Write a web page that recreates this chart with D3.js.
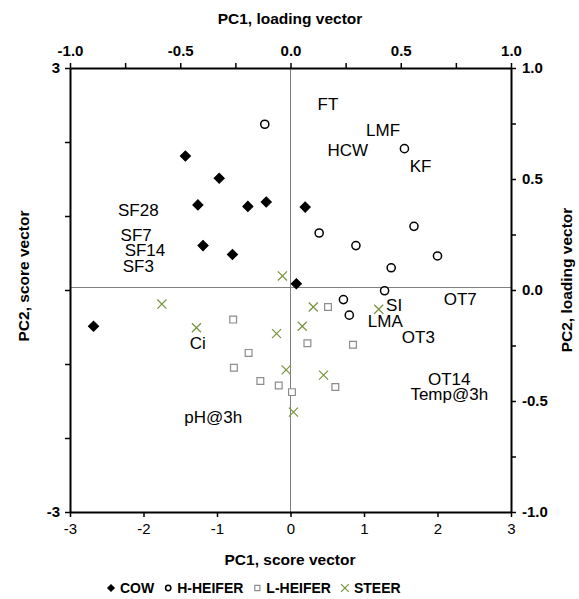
<!DOCTYPE html>
<html>
<head>
<meta charset="utf-8">
<script src="https://cdn.jsdelivr.net/npm/d3@7"></script>
<style>
  body { margin: 0; background: #fff; }
  svg { font-family: "Liberation Sans", Arial, sans-serif; }
</style>
</head>
<body>
<div class="biplot"></div>
<script>
// group scores (PC1, PC2)
const cowX = [-1.43, -0.97, -1.26, -0.58, -0.33, 0.20, -1.19, -0.79, 0.08, -2.68];
const cowY = [1.81, 1.51, 1.15, 1.13, 1.19, 1.12, 0.60, 0.48, 0.085, -0.49];
const hHeiferX = [-0.35, 1.55, 0.39, 0.89, 1.68, 2.00, 1.37, 1.28, 0.72, 0.80];
const hHeiferY = [2.24, 1.91, 0.77, 0.60, 0.86, 0.46, 0.30, -0.01, -0.13, -0.34];
const lHeiferX = [-0.78, -0.57, -0.77, -0.41, -0.16, 0.02, 0.51, 0.23, 0.85, 0.61];
const lHeiferY = [-0.40, -0.85, -1.05, -1.23, -1.29, -1.38, -0.23, -0.72, -0.74, -1.31];
const steerX = [-1.75, -1.28, -0.11, -0.19, 0.16, -0.06, 0.04, 0.31, 0.45, 1.20];
const steerY = [-0.19, -0.51, 0.19, -0.59, -0.49, -1.08, -1.65, -0.23, -1.15, -0.26];

// loading vector labels
const loadNames = ["FT", "LMF", "HCW", "KF", "SF28", "SF7", "SF14", "SF3", "Ci", "pH@3h",
                   "SI", "OT7", "LMA", "OT3", "OT14", "Temp@3h"];
const loadX = [0.17, 0.42, 0.26, 0.59, -0.69, -0.70, -0.66, -0.69, -0.42, -0.35,
               0.47, 0.77, 0.43, 0.58, 0.72, 0.72];
const loadY = [0.84, 0.72, 0.63, 0.56, 0.36, 0.25, 0.18, 0.11, -0.24, -0.57,
               -0.065, -0.04, -0.14, -0.21, -0.40, -0.47];

const scoreTicks = [-3, -2, -1, 0, 1, 2, 3];
const loadTicks = [-1, -0.75, -0.5, -0.25, 0, 0.25, 0.5, 0.75, 1];
const groupNames = ["COW", "H-HEIFER", "L-HEIFER", "STEER"];

const width = 579, height = 599;
const x = d3.scaleLinear().domain([-3, 3]).range([70, 511]);
const y = d3.scaleLinear().domain([-3, 3]).range([512, 68]);
const xL = d3.scaleLinear().domain([-1, 1]).range([70, 511]);
const yL = d3.scaleLinear().domain([-1, 1]).range([512, 68]);

const svg = d3.select(".biplot").append("svg")
    .attr("width", width)
    .attr("height", height);

// zero lines
svg.append("line")
    .attr("x1", x(0)).attr("x2", x(0))
    .attr("y1", y(3)).attr("y2", y(-3))
    .attr("stroke", "#808080").attr("stroke-width", 1);
svg.append("line")
    .attr("x1", x(-3)).attr("x2", x(3))
    .attr("y1", y(0) - 2.5).attr("y2", y(0) - 2.5)
    .attr("stroke", "#808080").attr("stroke-width", 1);

const half = d => Math.abs(d * 2 % 1) < 1e-9 ? d.toFixed(1) : "";

function styleAxis(g, bold) {
    g.select(".domain").attr("stroke-width", 2);
    g.selectAll(".tick line").attr("stroke-width", 1.5);
    g.selectAll("text")
        .attr("font-family", "Liberation Sans, Arial, sans-serif")
        .attr("font-size", 15)
        .attr("font-weight", bold ? "bold" : "normal")
        .attr("fill", "#000");
}

svg.append("g")
    .attr("transform", `translate(0,${y(-3)})`)
    .call(d3.axisBottom(x).tickValues(scoreTicks).tickSize(5).tickSizeOuter(0)
        .tickPadding(6).tickFormat(d => String(d)))
    .call(g => styleAxis(g, false));

svg.append("g")
    .attr("transform", `translate(${x(-3)},0)`)
    .call(d3.axisLeft(y).tickValues(scoreTicks).tickSize(5).tickSizeOuter(0)
        .tickPadding(5).tickFormat(d => Math.abs(d) === 3 ? String(d) : ""))
    .call(g => styleAxis(g, true));

svg.append("g")
    .attr("transform", `translate(0,${yL(1)})`)
    .call(d3.axisTop(xL).tickValues(loadTicks).tickSize(5).tickSizeOuter(0)
        .tickPadding(7).tickFormat(half))
    .call(g => styleAxis(g, true));

svg.append("g")
    .attr("transform", `translate(${xL(1)},0)`)
    .call(d3.axisRight(yL).tickValues(loadTicks).tickSize(5).tickSizeOuter(0)
        .tickPadding(6).tickFormat(half))
    .call(g => styleAxis(g, true));

// axis titles
const titles = svg.append("g")
    .attr("font-size", 15.5)
    .attr("font-weight", "bold")
    .attr("text-anchor", "middle");
titles.append("text").attr("x", 290).attr("y", 24).text("PC1, loading vector");
titles.append("text").attr("x", 290).attr("y", 565).text("PC1, score vector");
titles.append("text")
    .attr("transform", "translate(29,276) rotate(-90)")
    .text("PC2, score vector");
titles.append("text")
    .attr("transform", "translate(572,280) rotate(-90)")
    .text("PC2, loading vector");

// loading labels
svg.append("g")
    .attr("font-size", 17)
    .attr("text-anchor", "middle")
    .selectAll("text")
    .data(loadNames.map((n, i) => ({n, lx: loadX[i], ly: loadY[i]})))
    .join("text")
    .attr("x", d => xL(d.lx))
    .attr("y", d => yL(d.ly))
    .attr("dy", "0.36em")
    .text(d => d.n);

// markers
const timesType = d3.symbolTimes || d3.symbolCross;
const groups = [
    {name: "COW", xs: cowX, ys: cowY, type: d3.symbolSquare, size: 52, rot: 45,
     fill: "#000", stroke: "#000", sw: 1, lsize: 22},
    {name: "H-HEIFER", xs: hHeiferX, ys: hHeiferY, type: d3.symbolCircle, size: 52, rot: 0,
     fill: "#fff", stroke: "#000", sw: 1.5, lsize: 22},
    {name: "L-HEIFER", xs: lHeiferX, ys: lHeiferY, type: d3.symbolSquare, size: 46, rot: 0,
     fill: "#fff", stroke: "#8c8c8c", sw: 1.2, lsize: 26},
    {name: "STEER", xs: steerX, ys: steerY, type: timesType, size: 55, rot: 0,
     fill: "none", stroke: "#77933c", sw: 1.2, lsize: 40}
];

groups.forEach(gr => {
    svg.append("g")
        .selectAll("path")
        .data(gr.xs.map((v, i) => [v, gr.ys[i]]))
        .join("path")
        .attr("d", d3.symbol().type(gr.type).size(gr.size))
        .attr("transform", d => `translate(${x(d[0])},${y(d[1])}) rotate(${gr.rot})`)
        .attr("fill", gr.fill)
        .attr("stroke", gr.stroke)
        .attr("stroke-width", gr.sw);
});

// legend
const legend = svg.append("g")
    .attr("font-size", 14)
    .attr("font-weight", "bold");
let lx = 107;
const ly = 588;
groups.forEach((gr, i) => {
    legend.append("path")
        .attr("d", d3.symbol().type(gr.type).size(gr.lsize))
        .attr("transform", `translate(${lx + 4},${ly}) rotate(${gr.rot})`)
        .attr("fill", gr.fill)
        .attr("stroke", gr.stroke)
        .attr("stroke-width", gr.sw);
    const t = legend.append("text")
        .attr("x", lx + 13)
        .attr("y", ly)
        .attr("dy", "0.36em")
        .text(groupNames[i]);
    lx += 13 + t.node().getComputedTextLength() + 10;
});
</script>
</body>
</html>
